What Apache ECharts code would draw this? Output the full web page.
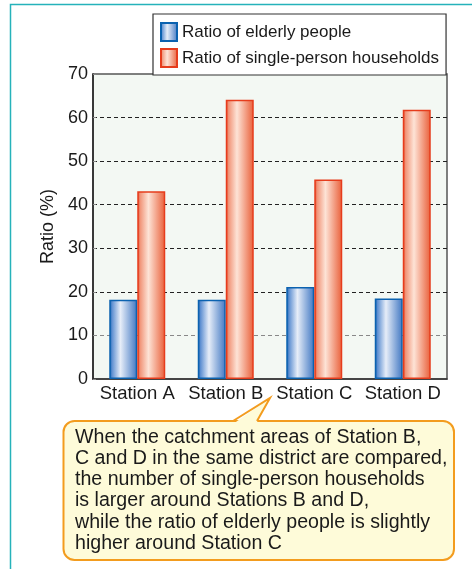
<!DOCTYPE html>
<html><head><meta charset="utf-8">
<script src="https://cdn.jsdelivr.net/npm/echarts@6/dist/echarts.min.js"></script>
<style>html,body{margin:0;padding:0;background:#fff}#c{width:472px;height:569px}</style>
</head><body><div id="c"></div>
<script>
const categories = ['Station A', 'Station B', 'Station C', 'Station D'];
const elderly = [18.2, 18.2, 21.1, 18.5];
const single = [43.1, 64.1, 45.8, 61.8];
const seriesNames = ['Ratio of elderly people', 'Ratio of single-person households'];
const yTicks = { min: 0, max: 70, interval: 10 };
const yName = 'Ratio (%)';
const calloutLines = [
  'When the catchment areas of Station B,',
  'C and D in the same district are compared,',
  'the number of single-person households',
  'is larger around Stations B and D,',
  'while the ratio of elderly people is slightly',
  'higher around Station C'
];

const FONT = '"Liberation Sans", Arial, Helvetica, sans-serif';
const G = echarts.graphic.LinearGradient;
const blueGrad = new G(0, 0, 1, 0, [
  { offset: 0, color: '#0a5cab' }, { offset: 0.1, color: '#5f90d2' },
  { offset: 0.4, color: '#e6edf8' }, { offset: 1, color: '#3f76c2' }]);
const redGrad = new G(0, 0, 1, 0, [
  { offset: 0, color: '#e63a1a' }, { offset: 0.1, color: '#f19478' },
  { offset: 0.4, color: '#fde3d6' }, { offset: 1, color: '#e95e38' }]);

const chart = echarts.init(document.getElementById('c'), null, { renderer: 'canvas' });
chart.setOption({
  backgroundColor: '#fff',
  animation: false,
  textStyle: { fontFamily: FONT },
  grid: { left: 93, top: 74, width: 354, height: 305, show: true,
    backgroundColor: '#f3f8f3', borderColor: '#555', borderWidth: 1.5 },
  legend: {
    orient: 'vertical', left: 153, top: 14, icon: 'rect',
    padding: [8, 7, 7, 7], itemGap: 6, itemWidth: 16, itemHeight: 18,
    backgroundColor: '#fff', borderColor: '#333', borderWidth: 1.2,
    textStyle: { fontSize: 17, color: '#1a1a1a', fontFamily: FONT },
    data: seriesNames
  },
  xAxis: {
    type: 'category', data: categories,
    axisTick: { show: false },
    axisLine: { lineStyle: { color: '#333', width: 1.5 } },
    axisLabel: { interval: 0, fontSize: 18.5, color: '#1a1a1a', margin: 5, fontFamily: FONT }
  },
  yAxis: {
    type: 'value', min: yTicks.min, max: yTicks.max, interval: yTicks.interval,
    name: yName, nameLocation: 'middle', nameRotate: 90, nameGap: 29,
    nameTextStyle: { fontSize: 18, color: '#1a1a1a', fontFamily: FONT },
    axisLine: { show: true, lineStyle: { color: '#222', width: 1.5 } },
    axisTick: { show: true, inside: true, length: 3, lineStyle: { color: '#888' } },
    axisLabel: { fontSize: 18, color: '#1a1a1a', margin: 5, fontFamily: FONT },
    splitLine: { show: true, lineStyle: { type: [4, 3],
      color: ['rgba(0,0,0,0)', '#888', '#222', '#222', '#222', '#222', '#222', 'rgba(0,0,0,0)'], width: 1 } }
  },
  series: [
    { name: seriesNames[0], type: 'bar', data: elderly, barWidth: 28, barGap: '0%',
      itemStyle: { color: blueGrad, borderColor: '#0b62b0', borderWidth: 1.5 } },
    { name: seriesNames[1], type: 'bar', data: single, barWidth: 28, barGap: '0%',
      itemStyle: { color: redGrad, borderColor: '#e63c1c', borderWidth: 1.5 } }
  ],
  graphic: [
    { type: 'rect', shape: { x: 10.5, y: 4.5, width: 520, height: 620 },
      style: { fill: null, stroke: '#25b2ba', lineWidth: 1.5 }, silent: true },
    { type: 'rect', shape: { x: 63.5, y: 421, width: 390.5, height: 139, r: 11 },
      style: { fill: '#fefbd9', stroke: '#f39c1e', lineWidth: 2 }, silent: true },
    { type: 'polygon', shape: { points: [[234.5, 423], [270, 398], [256.5, 423]] },
      style: { fill: '#fefbd9' }, silent: true },
    { type: 'polyline', shape: { points: [[233, 421], [270, 398], [257, 421]] },
      style: { fill: null, stroke: '#f39c1e', lineWidth: 2, lineJoin: 'miter' }, silent: true },
    { type: 'text', x: 75, y: 426.5, silent: true,
      style: { text: calloutLines.join('\n'), font: '19.6px ' + FONT, lineHeight: 21.3,
        fill: '#1a1a1a', textVerticalAlign: 'top' } }
  ]
});
</script></body></html>
